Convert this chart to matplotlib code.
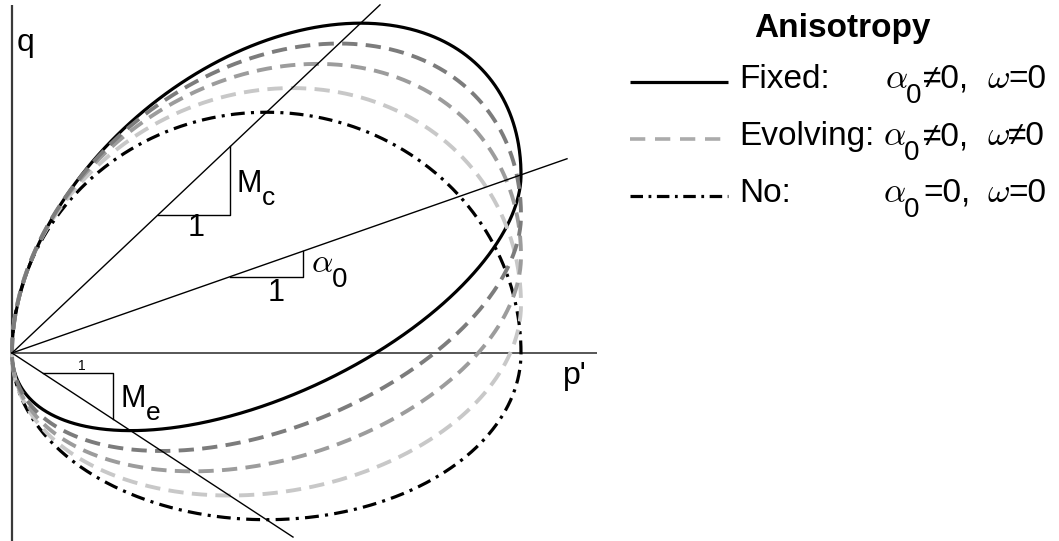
import numpy as np
import matplotlib
matplotlib.use("Agg")
import matplotlib.pyplot as plt

plt.rcParams["font.family"] = ["Liberation Sans", "DejaVu Sans"]
plt.rcParams["lines.scale_dashes"] = False

# ---- model parameters (p' normalised by the yield-surface size p_m) ----
M_c = 0.946            # critical-state slope, compression
M_e = 0.655            # critical-state slope, extension
p_m = 1.0              # size of the yield surface
alpha_fixed = 0.35     # fixed anisotropy, alpha_0
alpha_evolving = [0.27, 0.19, 0.095]   # evolving anisotropy stages
alpha_none = 0.0       # isotropic surface
evolving_colors = ["#7c7c7c", "#9c9c9c", "#c8c8c8"]

legend_labels = ["Fixed:", "Evolving:", "No:"]
legend_alpha_rel = ["\u2260", "\u2260", "="]
legend_omega_rel = ["=", "\u2260", "="]

# ---- canvas -----------------------------------------------------------
W, H = 1059, 541
X0, Y0, S = 12, 353, 509.0      # origin location and scale in pixels

fig = plt.figure(figsize=(W / 100, H / 100), dpi=100)
ax = fig.add_axes([0, 0, 1, 1])
ax.set_xlim(-X0 / S, (W - X0) / S)
ax.set_ylim(-(H - Y0) / S, Y0 / S)
ax.axis("off")


def px(x, y):
    """pixel position -> (p', q) data position"""
    return (x - X0) / S, (Y0 - y) / S


def yield_surface(alpha, Mc, Me, pm, n=600):
    t = np.linspace(0.0, np.pi, n)
    p = pm * (1 - np.cos(t)) / 2
    q_up = alpha * p + np.sqrt(np.clip((Mc**2 - alpha**2) * p * (pm - p), 0, None))
    q_lo = alpha * p - np.sqrt(np.clip((Me**2 - alpha**2) * p * (pm - p), 0, None))
    return np.concatenate([p, p[::-1]]), np.concatenate([q_up, q_lo[::-1]])


dash = (0, (11, 6))
dashdot = (0, (10, 4.5, 2.2, 4.5))

# ---- axes --------------------------------------------------------------
axis_col = "#3a3a3a"
ax.plot([0, 0], [px(0, 545)[1], px(0, 5)[1]], color=axis_col, lw=1.6,
        solid_capstyle="butt")
ax.plot([0, px(597, 0)[0]], [0, 0], color=axis_col, lw=1.2,
        solid_capstyle="butt")

# ---- yield surfaces ----------------------------------------------------
p, q = yield_surface(alpha_fixed, M_c, M_e, p_m)
ax.plot(p, q, color="black", lw=2.3, zorder=3)

p, q = yield_surface(alpha_none, M_c, M_e, p_m)
ax.plot(p, q, color="black", lw=2.3, linestyle=dashdot, zorder=3)

for a, c in zip(alpha_evolving[::-1], evolving_colors[::-1]):
    p, q = yield_surface(a, M_c, M_e, p_m)
    ax.plot(p, q, color=c, lw=2.8, linestyle=dash, zorder=4)

# ---- critical-state lines and anisotropy line -----------------------------
pc_end = px(380, 0)[0]
ax.plot([0, pc_end], [0, M_c * pc_end], color="black", lw=1.0, zorder=5)
pa_end = px(567, 0)[0]
ax.plot([0, pa_end], [0, alpha_fixed * pa_end], color="black", lw=1.0, zorder=5)
pe_end = px(293, 0)[0]
ax.plot([0, pe_end], [0, -M_e * pe_end], color="black", lw=1.0, zorder=5)


def slope_triangle(p1, length, slope, below=False):
    p2 = p1 + length
    sgn = -1 if below else 1
    ax.plot([p1, p2, p2], [sgn * slope * p1, sgn * slope * p1, sgn * slope * p2],
            color="black", lw=1.0, zorder=5)


slope_triangle(0.287, 0.142, M_c)
slope_triangle(0.428, 0.143, alpha_fixed)
slope_triangle(0.060, 0.139, M_e, below=True)


def subscripted(x, y, main, sub, size, sub_size, dx, dy, math=False):
    kw = dict(math_fontfamily="cm") if math else {}
    ax.text(*px(x, y), main, fontsize=size, ha="left", va="baseline", **kw)
    ax.text(*px(x + dx, y + dy), sub, fontsize=sub_size, ha="left",
            va="baseline")


# ---- labels on the diagram -----------------------------------------------
fs = 22
ax.text(*px(196, 228), "1", fontsize=fs, ha="center", va="center")
subscripted(237, 192, "M", "c", fs, 19, 25, 13)
ax.text(*px(276, 293), "1", fontsize=fs, ha="center", va="center")
subscripted(311, 272, r"$\alpha$", "0", fs + 2, fs - 2, 21, 15, math=True)
ax.text(*px(82, 366), "1", fontsize=10, ha="center", va="center")
subscripted(121, 407, "M", "e", fs, 19, 25, 13)
ax.text(*px(17, 51), "q", fontsize=23, ha="left", va="baseline")
ax.text(*px(563, 384), "p'", fontsize=23, ha="left", va="baseline")

# ---- legend --------------------------------------------------------------
lfs = 24
ax.text(*px(842, 37), "Anisotropy", fontsize=lfs, fontweight="bold",
        ha="center", va="baseline")

row_base = [88, 145, 202]
sample_styles = [dict(color="black", lw=2.3, linestyle="-"),
                 dict(color="#ababab", lw=2.6, linestyle=(0, (11, 7))),
                 dict(color="black", lw=2.3, linestyle=(0, (9, 4, 2, 4)))]
alpha_x = [885, 883, 883]
for i, lab in enumerate(legend_labels):
    yb = row_base[i]
    (x1, y1), (x2, _) = px(630, yb - 6), px(728, yb - 6)
    ax.plot([x1, x2], [y1, y1], solid_capstyle="butt", **sample_styles[i])
    ax.text(*px(739, yb), lab, fontsize=lfs, ha="left", va="baseline")
    subscripted(alpha_x[i], yb, r"$\alpha$", "0", lfs + 1, 20, 21, 15,
                math=True)
    ax.text(*px(923, yb), legend_alpha_rel[i] + "0,", fontsize=lfs,
            ha="left", va="baseline")
    ax.text(*px(987, yb), r"$\omega$", fontsize=lfs + 1, ha="left",
            va="baseline", math_fontfamily="cm")
    ax.text(*px(1008, yb), legend_omega_rel[i] + "0", fontsize=lfs,
            ha="left", va="baseline")

fig.savefig("out.png", dpi=100)
